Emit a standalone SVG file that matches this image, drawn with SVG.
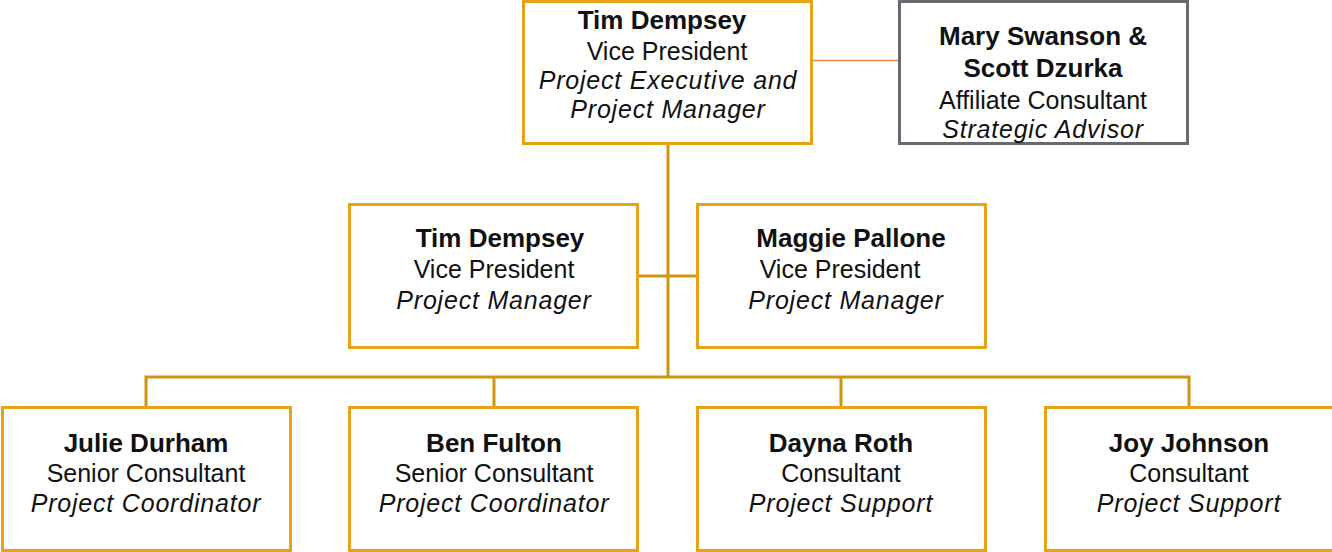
<svg xmlns="http://www.w3.org/2000/svg" width="1332" height="552" viewBox="0 0 1332 552">
  <style>
    .box { fill: #ffffff; stroke: #E6A414; stroke-width: 3; }
    .advisor { fill: #ffffff; stroke: #686870; stroke-width: 3; }
    .wire { fill: none; stroke: #CE950F; stroke-width: 3; }
    .side { fill: none; stroke: #F0873A; stroke-width: 1.5; }
    text { font-family: "Liberation Sans", Arial, sans-serif; fill: #111111; text-anchor: middle; }
    .name { font-weight: bold; font-size: 26px; }
    .title { font-size: 25px; }
    .role { font-style: italic; font-size: 25px; letter-spacing: 0.8px; }
  </style>

  <!-- connectors -->
  <g id="connectors">
    <line class="side" x1="811" y1="60.5" x2="899" y2="60.5"/>
    <line class="wire" x1="668" y1="143" x2="668" y2="377"/>
    <line class="wire" x1="637" y1="276" x2="697" y2="276"/>
    <polyline class="wire" points="146,407 146,377 1189,377 1189,407"/>
    <line class="wire" x1="494" y1="377" x2="494" y2="407"/>
    <line class="wire" x1="841" y1="377" x2="841" y2="407"/>
  </g>

  <g id="exec">
    <rect class="box" x="523.5" y="1.5" width="288" height="142"/>
    <text class="name" x="662" y="29">Tim Dempsey</text>
    <text class="title" x="667" y="60">Vice President</text>
    <text class="role" x="668" y="89">Project Executive and</text>
    <text class="role" x="668" y="118">Project Manager</text>
  </g>

  <g id="advisor">
    <rect class="advisor" x="899.5" y="1.5" width="288" height="142"/>
    <text class="name" x="1043" y="45">Mary Swanson &amp;</text>
    <text class="name" x="1043" y="77">Scott Dzurka</text>
    <text class="title" x="1043" y="109">Affiliate Consultant</text>
    <text class="role" x="1043" y="138">Strategic Advisor</text>
  </g>

  <g id="pm-dempsey">
    <rect class="box" x="349.5" y="204.5" width="288" height="143"/>
    <text class="name" x="500" y="247">Tim Dempsey</text>
    <text class="title" x="494" y="278">Vice President</text>
    <text class="role" x="494" y="309">Project Manager</text>
  </g>

  <g id="pm-pallone">
    <rect class="box" x="697.5" y="204.5" width="288" height="143"/>
    <text class="name" x="851" y="247">Maggie Pallone</text>
    <text class="title" x="840" y="278">Vice President</text>
    <text class="role" x="846" y="309">Project Manager</text>
  </g>

  <g id="durham">
    <rect class="box" x="2.5" y="407.5" width="288" height="143"/>
    <text class="name" x="146" y="452">Julie Durham</text>
    <text class="title" x="146" y="482">Senior Consultant</text>
    <text class="role" x="146" y="512">Project Coordinator</text>
  </g>

  <g id="fulton">
    <rect class="box" x="349.5" y="407.5" width="288" height="143"/>
    <text class="name" x="494" y="452">Ben Fulton</text>
    <text class="title" x="494" y="482">Senior Consultant</text>
    <text class="role" x="494" y="512">Project Coordinator</text>
  </g>

  <g id="roth">
    <rect class="box" x="697.5" y="407.5" width="288" height="143"/>
    <text class="name" x="841" y="452">Dayna Roth</text>
    <text class="title" x="841" y="482">Consultant</text>
    <text class="role" x="841" y="512">Project Support</text>
  </g>

  <g id="johnson">
    <rect class="box" x="1045.5" y="407.5" width="288" height="143"/>
    <text class="name" x="1189" y="452">Joy Johnson</text>
    <text class="title" x="1189" y="482">Consultant</text>
    <text class="role" x="1189" y="512">Project Support</text>
  </g>
</svg>
